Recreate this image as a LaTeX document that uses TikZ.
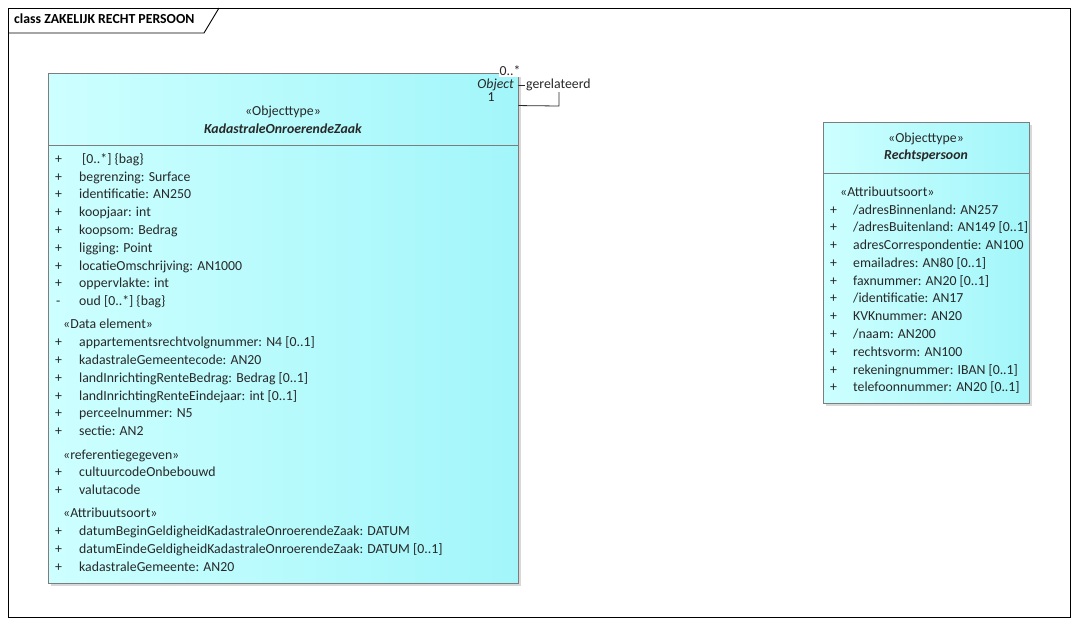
\documentclass[tikz,border=0pt]{standalone}
\usepackage{fontspec}
\setmainfont{Carlito}
\usetikzlibrary{shadows}
\definecolor{umlfillL}{RGB}{205,255,255}
\definecolor{umlfillR}{RGB}{162,246,250}
\definecolor{umlline}{RGB}{125,125,125}
\definecolor{umltext}{RGB}{40,40,40}

\begin{document}
\begin{tikzpicture}[x=1pt,y=-1pt,
  klasse/.style={rectangle, draw=umlline, line width=0.9pt, left color=umlfillL, right color=umlfillR, inner sep=0pt,
    drop shadow={shadow xshift=2.5pt, shadow yshift=-2.5pt, fill=black!30}},
  attr/.style={anchor=mid west, inner sep=0pt, yshift=-2pt, font=\fontsize{13.8}{15}\selectfont, text=umltext},
  kop/.style={inner sep=0pt, font=\fontsize{13.8}{15}\selectfont, text=umltext},
  rol/.style={inner sep=1pt, font=\fontsize{13.8}{15}\selectfont, text=umltext}]
\useasboundingbox (0,0) rectangle (1078,625);
\fill[white] (0,0) rectangle (1078,625);

% diagram frame
\draw[line width=0.9pt] (8,8) rectangle (1070,617);
\draw[line width=0.9pt] (8,33) -- (204,33) -- (219,8);
\node[anchor=mid west, inner sep=0pt, yshift=-1pt, font=\fontsize{13.8}{15}\selectfont\bfseries] (framelabel) at (14,20) {class ZAKELIJK RECHT PERSOON};

% classes
\node[klasse, minimum width=470pt, minimum height=510pt] (koz) at (283,328) {};
\node[klasse, minimum width=206pt, minimum height=281pt] (rp) at (926,262.5) {};

% KadastraleOnroerendeZaak
\node[kop] (kozstereo) at (283,112) {«Objecttype»};
\node[kop, font=\fontsize{13.8}{15}\selectfont\bfseries\itshape] (kozname) at (283,129) {KadastraleOnroerendeZaak};
\draw[umlline, line width=0.9pt] (48,145) -- (518,145);
\node[attr] at (55,159) {+};  \node[attr] at (82,159) {[0..*] \{bag\}};
\node[attr] at (55,177) {+};  \node[attr] at (79,177) {begrenzing: Surface};
\node[attr] at (55,194) {+};  \node[attr] at (79,194) {identificatie: AN250};
\node[attr] at (55,212) {+};  \node[attr] at (79,212) {koopjaar: int};
\node[attr] at (55,230) {+};  \node[attr] at (79,230) {koopsom: Bedrag};
\node[attr] at (55,248) {+};  \node[attr] at (79,248) {ligging: Point};
\node[attr] at (55,266) {+};  \node[attr] at (79,266) {locatieOmschrijving: AN1000};
\node[attr] at (55,283) {+};  \node[attr] at (79,283) {oppervlakte: int};
\node[attr] at (56,301) {-};  \node[attr] at (79,301) {oud [0..*] \{bag\}};
\node[attr] at (63,324) {«Data element»};
\node[attr] at (55,342) {+};  \node[attr] at (79,342) {appartementsrechtvolgnummer: N4 [0..1]};
\node[attr] at (55,360) {+};  \node[attr] at (79,360) {kadastraleGemeentecode: AN20};
\node[attr] at (55,378) {+};  \node[attr] at (79,378) {landInrichtingRenteBedrag: Bedrag [0..1]};
\node[attr] at (55,396) {+};  \node[attr] at (79,396) {landInrichtingRenteEindejaar: int [0..1]};
\node[attr] at (55,413) {+};  \node[attr] at (79,413) {perceelnummer: N5};
\node[attr] at (55,431) {+};  \node[attr] at (79,431) {sectie: AN2};
\node[attr] at (63,455) {«referentiegegeven»};
\node[attr] at (55,472) {+};  \node[attr] at (79,472) {cultuurcodeOnbebouwd};
\node[attr] at (55,490) {+};  \node[attr] at (79,490) {valutacode};
\node[attr] at (63,513) {«Attribuutsoort»};
\node[attr] at (55,531) {+};  \node[attr] at (79,531) {datumBeginGeldigheidKadastraleOnroerendeZaak: DATUM};
\node[attr] at (55,549) {+};  \node[attr] at (79,549) {datumEindeGeldigheidKadastraleOnroerendeZaak: DATUM [0..1]};
\node[attr] at (55,567) {+};  \node[attr] at (79,567) {kadastraleGemeente: AN20};

% Rechtspersoon
\node[kop] (rpstereo) at (926,139) {«Objecttype»};
\node[kop, font=\fontsize{13.8}{15}\selectfont\bfseries\itshape] (rpname) at (926,156) {Rechtspersoon};
\draw[umlline, line width=0.9pt] (823,173) -- (1029,173);
\node[attr] at (840,192) {«Attribuutsoort»};
\node[attr] at (830,210) {+};  \node[attr] at (853,210) {/adresBinnenland: AN257};
\node[attr] at (830,227) {+};  \node[attr] at (853,227) {/adresBuitenland: AN149 [0..1]};
\node[attr] at (830,245) {+};  \node[attr] at (853,245) {adresCorrespondentie: AN100};
\node[attr] at (830,263) {+};  \node[attr] at (853,263) {emailadres: AN80 [0..1]};
\node[attr] at (830,281) {+};  \node[attr] at (853,281) {faxnummer: AN20 [0..1]};
\node[attr] at (830,298) {+};  \node[attr] at (853,298) {/identificatie: AN17};
\node[attr] at (830,316) {+};  \node[attr] at (853,316) {KVKnummer: AN20};
\node[attr] at (830,334) {+};  \node[attr] at (853,334) {/naam: AN200};
\node[attr] at (830,352) {+};  \node[attr] at (853,352) {rechtsvorm: AN100};
\node[attr] at (830,370) {+};  \node[attr] at (853,370) {rekeningnummer: IBAN [0..1]};
\node[attr] at (830,387) {+};  \node[attr] at (853,387) {telefoonnummer: AN20 [0..1]};

% self association gerelateerd
\coordinate (selfa) at ([yshift=-13pt]koz.north east);
\coordinate (selfb) at ([yshift=-33pt]koz.north east);
\coordinate (selfc) at (559,106);
\draw[umltext, line width=0.8pt] (selfa) -| (selfc) -- (selfb);
\node[rol, fill=white, anchor=mid west, yshift=-1pt] (relname) at (525,85) {gerelateerd};
\node[rol, fill=white, yshift=-1pt] (multa) at (510,70) {0..*};
\node[rol, anchor=mid east, yshift=-1pt, font=\fontsize{13.8}{15}\selectfont\itshape] (rolename) at (515,85) {Object};
\node[rol] (multb) at (491,97) {1};
\end{tikzpicture}
\end{document}
